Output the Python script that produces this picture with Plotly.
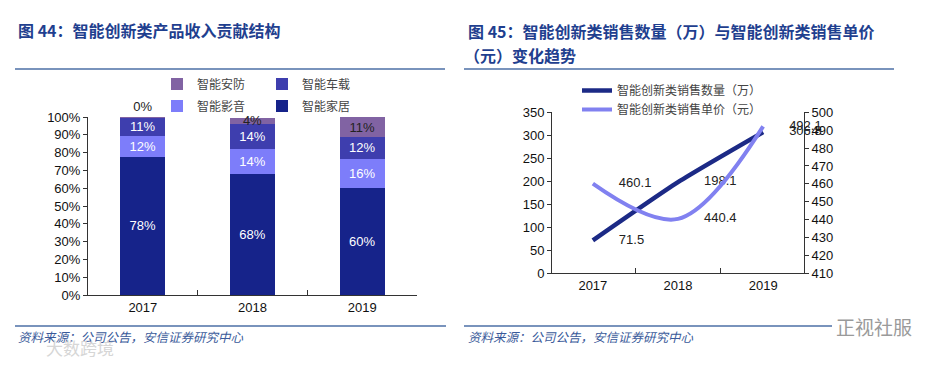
import plotly.graph_objects as go

# ---- data ----
years = ["2017", "2018", "2019"]
home = [77.6, 67.8, 60.3]       # 智能家居
av = [11.6, 14.0, 16.1]         # 智能影音
car = [10.5, 14.2, 12.4]        # 智能车载
security = [0.1, 3.6, 11.0]     # 智能安防

qty = [71.5, 198.1, 306.8]      # 智能创新类销售数量（万）
price = [460.1, 440.4, 492.1]   # 智能创新类销售单价（元）

pct_ticks = list(range(0, 101, 10))
pct_labels = [f"{v}%" for v in pct_ticks]

# page body has an 8px margin: size the figure to fit and map screen pixels
OFF = 8
W, H = 935 - 2 * OFF, 366 - 2 * OFF
def px(x):
    return (x - OFF) / W
def py(y):
    return 1 - (y - OFF) / H

FONT = "Liberation Sans, Arial, Noto Sans CJK SC, sans-serif"
CJK = "Noto Sans CJK SC, sans-serif"

fig = go.Figure()

# ---- left: stacked bars ----
bar_specs = [
    ("智能家居", home, "#16238A", "white", "inside", "legend3"),
    ("智能影音", av, "#7D7DFA", "white", "inside", "legend3"),
    ("智能车载", car, "#3E3EAE", "white", "inside", "legend"),
    ("智能安防", security, "#8163A3", "#222222", ["outside", "inside", "inside"], "legend"),
]
for name, vals, col, tcol, tpos, leg in bar_specs:
    fig.add_trace(go.Bar(
        x=years, y=vals, name=name, marker=dict(color=col, line=dict(width=0)),
        width=0.41, texttemplate="%{y:.0f}%", textposition=tpos,
        insidetextanchor="middle", textangle=0, constraintext="none",
        textfont=dict(size=13, color=tcol, family=FONT),
        outsidetextfont=dict(size=13, color="#222222", family=FONT),
        cliponaxis=False, xaxis="x", yaxis="y", legend=leg,
        hoverinfo="skip",
    ))

# ---- right: lines ----
fig.add_trace(go.Scatter(
    x=years, y=qty, name="智能创新类销售数量（万）", mode="lines+markers+text",
    line=dict(color="#1C2A86", width=4.5, shape="spline", smoothing=0.6),
    marker=dict(size=40, color="rgba(0,0,0,0)"),
    text=[f"{v}" for v in qty], textposition="middle right",
    textfont=dict(size=13, color="#222222", family=FONT),
    xaxis="x2", yaxis="y2", legend="legend2", cliponaxis=False, hoverinfo="skip",
))
fig.add_trace(go.Scatter(
    x=years, y=price, name="智能创新类销售单价（元）", mode="lines+markers+text",
    line=dict(color="#8181F0", width=4, shape="spline", smoothing=1.0),
    marker=dict(size=40, color="rgba(0,0,0,0)"),
    text=[f"{v}" for v in price], textposition="middle right",
    textfont=dict(size=13, color="#222222", family=FONT),
    xaxis="x2", yaxis="y3", legend="legend2", cliponaxis=False, hoverinfo="skip",
))

axis_common = dict(showgrid=False, zeroline=False, showline=True, linecolor="#333333",
                   linewidth=1, tickcolor="#333333", automargin=False,
                   tickfont=dict(size=13, color="#111111", family=FONT))

leg_common = dict(xanchor="left", yanchor="middle", bgcolor="rgba(0,0,0,0)",
                  tracegroupgap=0, traceorder="reversed")

fig.update_layout(
    width=W, height=H, margin=dict(l=0, r=0, t=0, b=0, autoexpand=False),
    paper_bgcolor="white", plot_bgcolor="white",
    font=dict(family=FONT, color="#222222"),
    barmode="stack", showlegend=True,
    xaxis=dict(domain=[px(88), px(417)], type="category", range=[-0.5, 2.5],
               tickson="boundaries", ticks="inside", ticklen=5, anchor="y", **axis_common),
    yaxis=dict(domain=[py(295), py(117)], range=[0, 100], ticks="outside", ticklen=4,
               tickmode="array", tickvals=pct_ticks, ticktext=pct_labels, anchor="x", **axis_common),
    xaxis2=dict(domain=[px(552), px(804)], type="category", range=[-0.48, 2.48],
                tickson="boundaries", ticks="inside", ticklen=5, anchor="y2", **axis_common),
    yaxis2=dict(domain=[py(273.3), py(112.3)], range=[0, 350], dtick=50, ticks="outside",
                ticklen=4, anchor="x2", **axis_common),
    yaxis3=dict(range=[410, 500], dtick=10, ticks="outside", ticklen=4, overlaying="y2",
                side="right", anchor="x2", **axis_common),
    legend=dict(x=px(157), y=py(84), orientation="h", entrywidth=60, entrywidthmode="pixels",
                font=dict(size=12, color="#444444", family=CJK), **leg_common),
    legend3=dict(x=px(157), y=py(106), orientation="h", entrywidth=60, entrywidthmode="pixels",
                 font=dict(size=12, color="#444444", family=CJK), **leg_common),
    legend2=dict(x=px(577), y=py(100), orientation="v",
                 font=dict(size=12, color="#444444", family=CJK),
                 xanchor="left", yanchor="middle", bgcolor="rgba(0,0,0,0)", tracegroupgap=0,
                 traceorder="normal"),
)

# ---- titles, rules, sources ----
title_font = dict(size=16, color="#1F3F8F", family=CJK)
anns = [
    dict(text="<b>图 44：智能创新类产品收入贡献结构</b>", x=px(16), y=py(30), font=title_font),
    dict(text="<b>图 45：智能创新类销售数量（万）与智能创新类销售单价</b>", x=px(466), y=py(31), font=title_font),
    dict(text="<b>（元）变化趋势</b>", x=px(462), y=py(55), font=title_font),
    dict(text="<i>资料来源：公司公告，安信证券研究中心</i>", x=px(16), y=py(336),
         font=dict(size=12.5, color="#3A5A9A", family=CJK)),
    dict(text="<i>资料来源：公司公告，安信证券研究中心</i>", x=px(466), y=py(336),
         font=dict(size=12.5, color="#3A5A9A", family=CJK)),
    dict(text="正视社服", x=px(834), y=py(326), font=dict(size=19, color="#9a9a9a", family=CJK)),
    dict(text="大数跨境", x=px(44), y=py(347), font=dict(size=17, color="#d6d6d6", family=CJK)),
]
for a in anns:
    fig.add_annotation(xref="paper", yref="paper", xanchor="left", yanchor="middle",
                       showarrow=False, **a)

rule = dict(color="#4D6FA6", width=1.5)
for x0, x1, y in [(15, 445, 69), (464, 894, 69), (15, 446, 326), (464, 832, 326)]:
    fig.add_shape(type="line", xref="paper", yref="paper", x0=px(x0), x1=px(x1),
                  y0=py(y), y1=py(y), line=rule)

fig.write_html("out.html")
